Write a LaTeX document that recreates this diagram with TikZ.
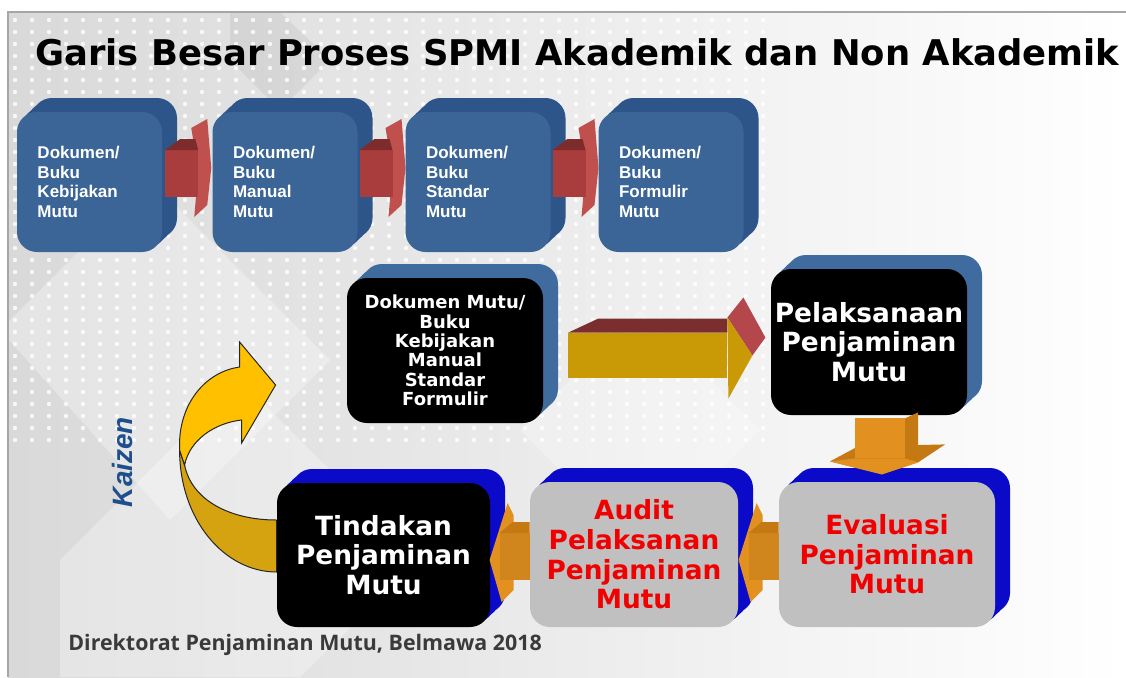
\documentclass[tikz,border=0pt]{standalone}
\usepackage{fontspec}
\setmainfont{DejaVu Sans}
\newfontfamily\arialfont{Liberation Sans}
\newfontfamily\footfont{Open Sans}
\usetikzlibrary{shadows,calc}

\definecolor{bluefront}{HTML}{3B6597}
\definecolor{blueback}{HTML}{2D5589}
\definecolor{steelback}{HTML}{3F6B9E}
\definecolor{deepblue}{HTML}{0A0AC8}
\definecolor{boxgray}{HTML}{C0C0C0}
\definecolor{redtext}{HTML}{F00000}
\definecolor{linkred}{HTML}{A93C3C}
\definecolor{linkdark}{HTML}{7D2B2B}
\definecolor{linkhead}{HTML}{C0504D}
\definecolor{gold}{HTML}{C99A06}
\definecolor{goldtop}{HTML}{7A2E2E}
\definecolor{goldhead}{HTML}{B4474B}
\definecolor{orangefront}{HTML}{E2901F}
\definecolor{orangeside}{HTML}{C47912}
\definecolor{kaizenyellow}{HTML}{FFC000}
\definecolor{kaizengold}{HTML}{D4A30F}
\definecolor{kaizenblue}{HTML}{1F4E8C}
\definecolor{footgray}{HTML}{3A3A3A}

\tikzset{
  extrude/.style={
    copy shadow={fill=#1,draw=none,opacity=1,shadow xshift=7.5pt,shadow yshift=7pt},
    copy shadow={fill=#1,draw=none,opacity=1,shadow xshift=5pt,shadow yshift=4.7pt},
    copy shadow={fill=#1,draw=none,opacity=1,shadow xshift=2.5pt,shadow yshift=2.3pt}},
  box/.style={rectangle,rounded corners=10pt,inner sep=0pt,minimum height=72.5pt},
  topbox/.style={box,fill=bluefront,extrude=blueback,minimum width=72.5pt,minimum height=70pt,
    text width=52pt,align=left,text=white,font=\arialfont\bfseries\fontsize{8.5}{9.8}\selectfont},
  darkbox/.style={box,fill=black,text=white,align=center},
  graybox/.style={box,fill=boxgray,text=redtext,align=center,extrude=deepblue},
  bigtext/.style={font=\bfseries\fontsize{13.2}{14.8}\selectfont},
}

\begin{document}
\begin{tikzpicture}[x=0.5pt,y=-0.5pt]
  \useasboundingbox (0,0) rectangle (1126,677);
  % slide background
  \fill[white] (0,0) rectangle (1126,677);
  \shade[left color=black!15,middle color=black!7,right color=white] (8,12) rectangle (1126,677);
  \fill[white,opacity=.3] (0,330) -- (150,180) -- (330,360) -- (170,520) -- cycle;
  \fill[white,opacity=.3] (60,560) -- (240,380) -- (420,560) -- (300,677) -- (60,677) -- cycle;
  \fill[black,opacity=.05] (230,12) -- (280,12) -- (330,60) -- (280,110) -- (230,60) -- cycle;
  \fill[white,opacity=.25] (520,430) -- (640,310) -- (760,430) -- (640,550) -- cycle;
  \foreach \i in {0,...,44}
    \foreach \j in {0,...,35}
      \fill[white,opacity=.8] (15+\i*17,20+\j*12) circle (2.2);
  \draw[gray!70,line width=.6pt] (8,677) -- (8,12) -- (1126,12);

  % title
  \node[anchor=base west,inner sep=0pt,font=\bfseries\fontsize{17.7}{20}\selectfont] (title) at (35,65)
    {Garis Besar Proses SPMI Akademik dan Non Akademik};

  % dokumen row
  \node[topbox] (k1) at (89.5,182) {Dokumen/\\Buku\\Kebijakan\\Mutu};
  \node[topbox] (k2) at (285,182) {Dokumen/\\Buku\\Manual\\Mutu};
  \node[topbox] (k3) at (478,182) {Dokumen/\\Buku\\Standar\\Mutu};
  \node[topbox] (k4) at (671,182) {Dokumen/\\Buku\\Formulir\\Mutu};

  \foreach \a/\b in {k1/k2,k2/k3,k3/k4}{
    \begin{scope}[shift={($(\a.east)!.5!(\b.west)$)}]
      \fill[linkhead] (4,-54) -- (20,-63) -- (24,-14) -- (20,23) -- (7,35) -- (11,-12) -- cycle;
      \fill[linkred] (-22,-32) rectangle (11,15);
      \fill[linkdark] (-22,-32) -- (-7,-43) -- (8,-43) -- (11,-32) -- cycle;
    \end{scope}
  }

  % siklus
  \node[darkbox,extrude=steelback,minimum width=98pt,font=\bfseries\fontsize{9}{9.7}\selectfont] (mutu) at (445,350.5)
    {Dokumen Mutu/\\Buku\\Kebijakan\\Manual\\Standar\\Formulir};
  \node[darkbox,extrude=steelback,minimum width=98pt,minimum height=73pt,bigtext] (laks) at (869,342)
    {Pelaksanaan\\Penjaminan\\Mutu};
  \node[graybox,minimum width=108pt,bigtext] (eval) at (887,554.5)
    {Evaluasi\\Penjaminan\\Mutu};
  \node[graybox,minimum width=104pt,bigtext] (audit) at (634,554.5)
    {Audit\\Pelaksanan\\Penjaminan\\Mutu};
  \node[darkbox,extrude=deepblue,minimum width=106.5pt,minimum height=72pt,bigtext] (tindak) at (383.5,555)
    {Tindakan\\Penjaminan\\Mutu};

  % mutu -> pelaksanaan
  \begin{scope}[shift={(mutu.east)}]
    \fill[gold] (25,-18) rectangle (184,27);
    \fill[goldtop] (25,-18) -- (55,-32) -- (184,-32) -- (184,-18) -- cycle;
    \fill[goldhead] (184,-33) -- (200,-53) -- (222,-13) -- (209,5) -- cycle;
    \fill[gold] (184,-33) -- (209,5) -- (185,48) -- cycle;
  \end{scope}

  % pelaksanaan -> evaluasi
  \begin{scope}[shift={(laks.south)}]
    \fill[orangeside] (-39,46) -- (-11,31) -- (76,29) -- (49,47) -- (13,59) -- cycle;
    \fill[orangefront] (-14,3) rectangle (36,43);
    \fill[orangefront] (-39,46) -- (-14,43) -- (36,43) -- (49,47) -- (13,59) -- cycle;
    \fill[orangeside] (36,3) -- (49,-3) -- (49,37) -- (36,43) -- cycle;
  \end{scope}

  % evaluasi -> audit -> tindakan
  \foreach \a in {eval,audit}{
    \begin{scope}[shift={(\a.west)}]
      \fill[orangefront] (-22,-51.5) -- (-16,-39.5) -- (-16,35.5) -- (-28,47.5) -- (-40,5.5) -- cycle;
      \fill[orangefront!92!black] (-30,-21.5) rectangle (0,25.5);
      \fill[orangeside] (-30,-21.5) -- (-17,-32.5) -- (0,-32.5) -- (0,-21.5) -- cycle;
    \end{scope}
  }

  % kaizen
  \begin{scope}[shift={(tindak.west)},draw=black!85,line width=.5pt]
    \filldraw[fill=kaizengold] (-97,-105) .. controls (-97,-35) and (-52,17) .. (0,17)
      -- (0,-35) .. controls (-47,-35) and (-85,-55) .. (-92,-90) -- cycle;
    \filldraw[fill=kaizenyellow] (-97,-105) .. controls (-99,-150) and (-72,-183) .. (-37,-188)
      -- (-37,-213) -- (-1,-170) -- (-35,-112) -- (-35,-135)
      .. controls (-62,-132) and (-87,-115) .. (-92,-90) -- cycle;
  \end{scope}
  \node[rotate=90,text=kaizenblue,font=\arialfont\bfseries\itshape\fontsize{14}{16}\selectfont] (kaizen) at (122,462) {Kaizen};

  % footer
  \node[anchor=base west,inner sep=0pt,text=footgray,font=\footfont\bfseries\fontsize{10.7}{12}\selectfont] (footer) at (68,650)
    {Direktorat Penjaminan Mutu, Belmawa 2018};
\end{tikzpicture}
\end{document}
